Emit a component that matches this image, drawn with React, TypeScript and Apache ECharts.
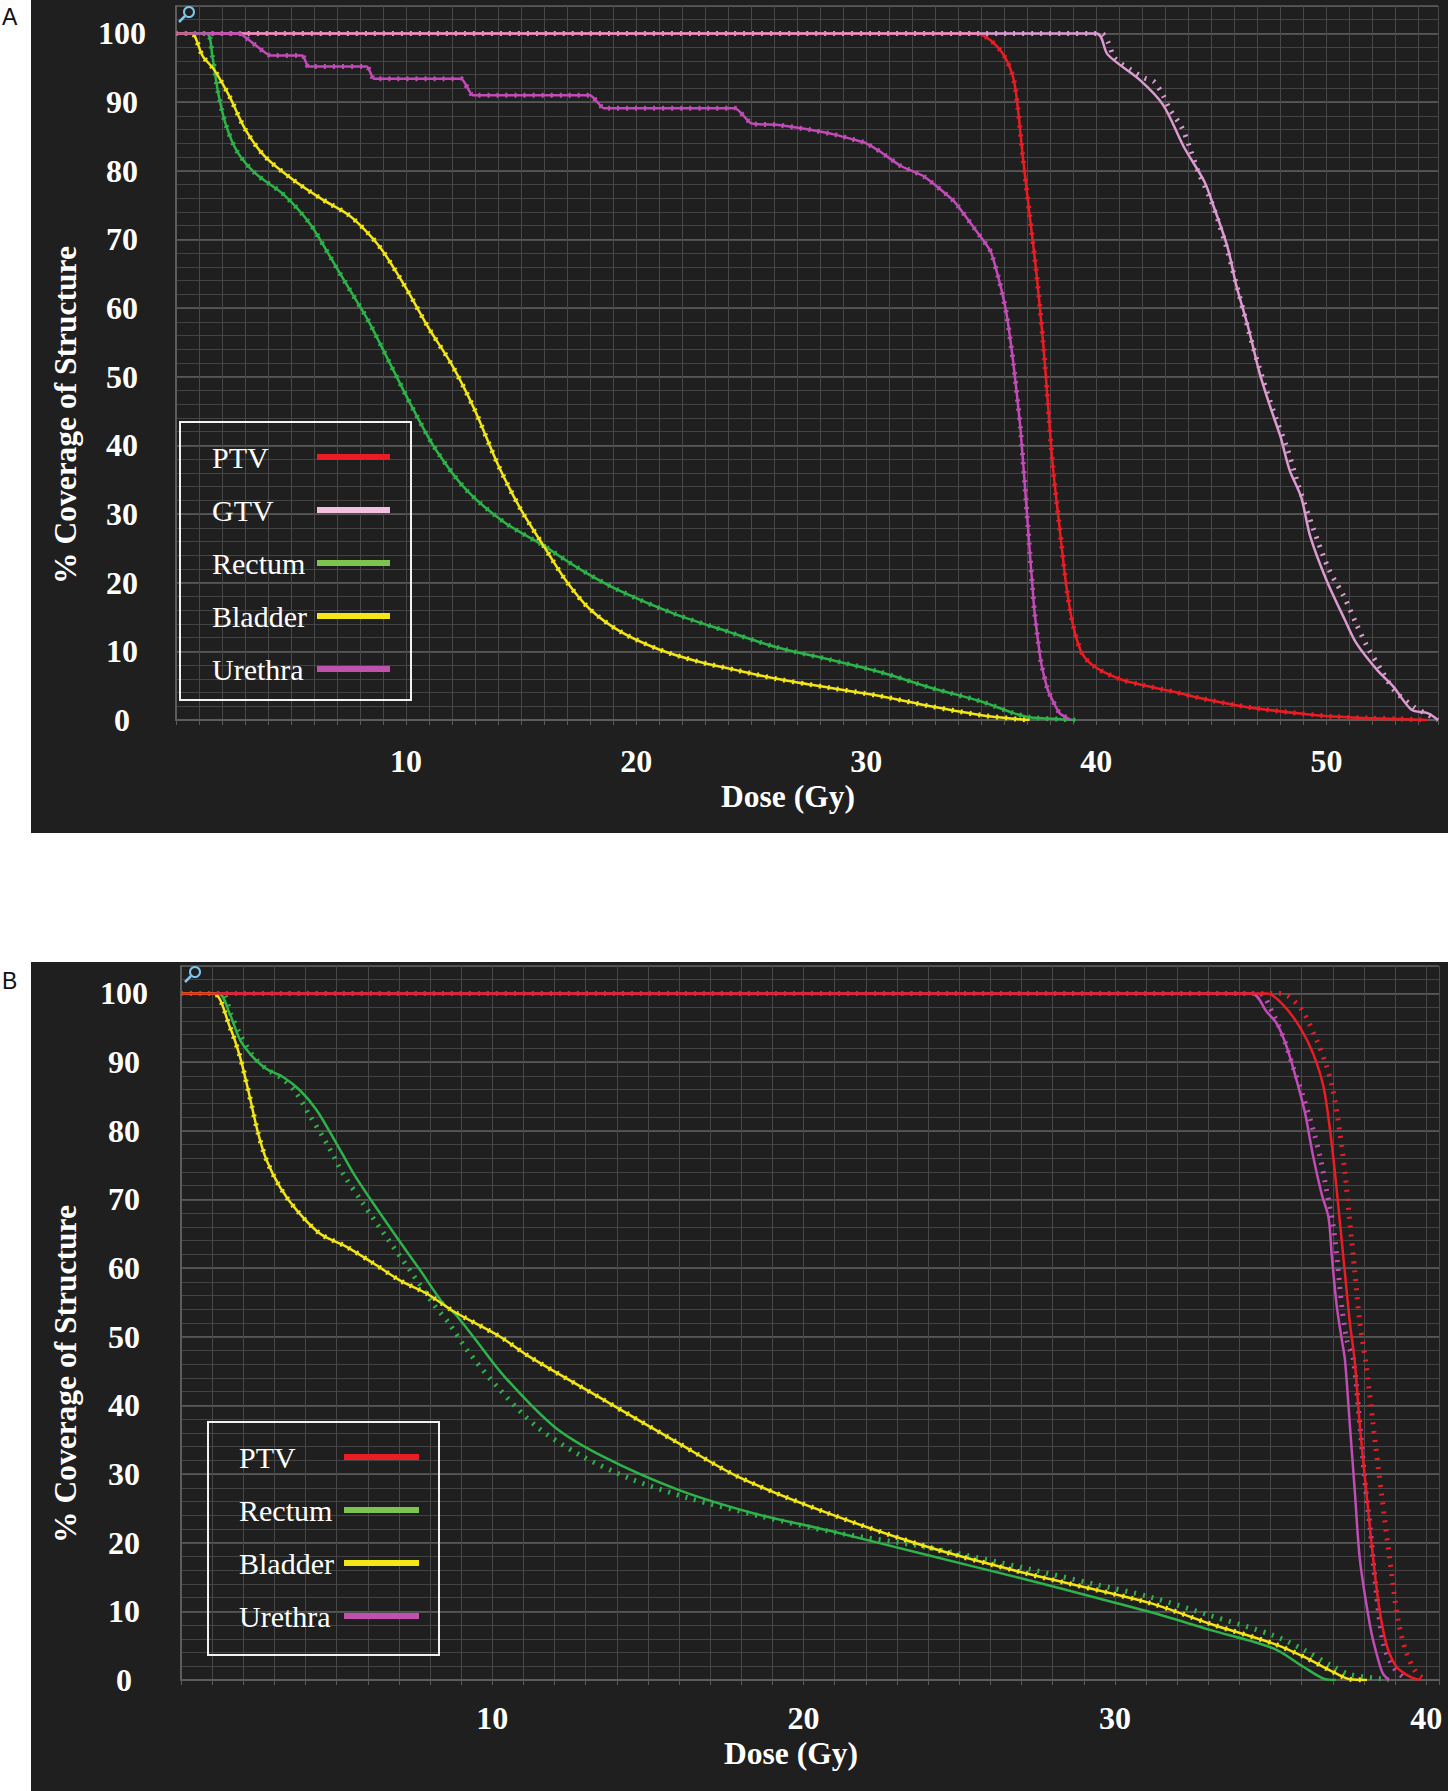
import React, { useEffect, useRef } from "react";
import * as echarts from "echarts";

const SERIF = "'Liberation Serif', 'Times New Roman', Times, serif";
const SANS = "'Liberation Sans', Arial, sans-serif";

// ---------- Panel A : dose (Gy) vs % coverage ----------
const ptvA = [[0,100],[34.8,100],[35.4,99],[36,96.7],[36.4,93.4],[36.6,88.8],[36.8,82.2],[37.1,73.6],[37.4,65],[37.7,54.5],[37.9,45.9],[38.1,37.3],[38.4,28.1],[38.7,19.5],[39,13.6],[39.4,9.6],[40,7.6],[41,6],[42,5.1],[43.5,4],[44.5,3.2],[46,2.2],[47.4,1.5],[49,0.9],[50.3,0.5],[52,0.25],[53.2,0.15],[54.4,0]];
const gtvA = [[0,100],[40,100],[40.5,96.9],[41.9,93.2],[42.9,89.6],[43.8,83.5],[44.7,78.4],[45.1,74.8],[45.7,68.9],[46.1,63.1],[46.6,57.2],[47.1,50.5],[47.6,45.2],[48,41.3],[48.4,36.4],[48.9,32.5],[49.3,26.7],[50,20.4],[50.8,14.6],[51.3,11.2],[52.2,7.3],[52.9,4.9],[53.7,1.5],[54.4,1],[54.85,0]];
const gtvAdot = [[0,100],[40.2,100],[40.5,98.8],[40.8,96.4],[41.5,94.7],[42.1,93.5],[42.5,93],[42.9,91],[43.2,88.9],[43.7,86.4],[44.1,83],[44.4,80.1],[45,75.5],[45.6,69.5],[46.1,63.3],[46.8,54.5],[47.3,49],[47.8,44],[48.3,39.5],[48.8,34],[49.45,27.7],[50.1,22],[50.76,18],[51.3,14],[51.77,10.7],[52.4,7.2],[52.93,4.4],[53.8,1.9],[54.4,0.8],[54.85,0]];
const rectumA = [[0,100],[1.33,100],[1.58,96.7],[1.83,91.4],[2.16,86.8],[2.66,82.8],[3.49,79.5],[4.66,76.6],[5.82,72.3],[6.66,67.7],[7.49,63],[8.32,58.4],[9.32,51.8],[10.32,45.2],[11.31,39.3],[12.65,33.4],[14.31,28.7],[15.97,25.4],[17.64,21.8],[19.3,18.8],[21.63,15.5],[23.96,12.9],[26.1,10.6],[28.4,8.8],[30.6,7],[32.8,4.7],[35,2.7],[36.4,1],[37.1,0.4],[38.5,0.1],[39.1,0]];
const bladderA = [[0,100],[0.67,100],[1.16,96.7],[1.66,94.7],[2.33,90.8],[3,86.1],[3.83,82.2],[5,78.9],[6.32,75.9],[7.49,73.6],[8.32,71],[8.99,68.3],[9.98,63],[10.98,57.1],[11.98,51.8],[12.98,45.2],[13.98,37.3],[14.98,30.7],[15.97,25.4],[16.97,20.2],[17.97,16.2],[19.3,12.9],[20.97,10.3],[22.6,8.6],[24.3,7.3],[26.1,6],[28.4,4.7],[30.6,3.5],[32.8,2],[35,0.7],[36.7,0.1],[37.1,0]];
const urethraA = [[0,100],[2.75,100],[3.3,98.7],[4.1,96.8],[5.5,96.8],[5.75,95.2],[8.3,95.2],[8.6,93.4],[12.4,93.4],[12.9,91],[18,91],[18.6,89.1],[24.3,89.1],[25,86.9],[26.1,86.7],[27.5,86],[28.6,85.3],[29.5,84.5],[30,84],[30.6,82.8],[31.5,80.7],[32.5,79.2],[33.8,75.6],[34.7,71.6],[35.4,68.3],[35.8,63.7],[36.1,59.1],[36.4,51.8],[36.7,42.6],[37,29.4],[37.3,16.2],[37.6,8.3],[37.9,4.3],[38.4,1],[38.9,0]];

// ---------- Panel B ----------
const ptvB = [[0,100],[34.88,100],[35.41,98.3],[35.94,95.1],[36.37,91.2],[36.7,86.4],[36.91,80.1],[37.07,73.8],[37.23,66.5],[37.39,59.2],[37.55,51.9],[37.7,46.6],[37.87,36.9],[38.08,27.2],[38.3,17.5],[38.5,10.2],[38.74,4.9],[39.05,1.9],[39.47,0.5],[39.8,0]];
const ptvBdot = [[0,100],[35.3,100],[35.94,98],[36.47,93.3],[36.79,89.5],[37,86],[37.23,79.6],[37.39,73.8],[37.55,66.5],[37.71,59.2],[37.87,51.9],[38.05,46.6],[38.3,36.9],[38.56,27.2],[38.83,17.5],[39.1,8.6],[39.37,3.9],[39.69,1],[40,0]];
const urethraB = [[0,100],[34.39,100],[34.88,97.3],[35.2,95.6],[35.52,92.2],[35.84,87.3],[36.11,82.5],[36.37,76.2],[36.64,70.8],[36.86,67.4],[36.97,61.6],[37.13,54.3],[37.29,49.5],[37.39,46.6],[37.55,36.9],[37.71,27.2],[37.87,17.5],[38.2,7.8],[38.4,3.9],[38.6,1],[38.8,0]];
const urethraBdot = [[0,100],[34.6,100],[35.1,96.8],[35.41,93.6],[35.73,89.2],[36.06,84.8],[36.37,80.1],[36.59,76.2],[36.8,71.3],[37,66.5],[37.13,61.6],[37.29,54.3],[37.45,49.5],[37.66,46.6],[37.87,37],[38.05,28],[38.2,22],[38.4,12.6],[38.62,5.3],[38.94,1.9],[39.26,0.4],[39.4,0]];
const rectumB = [[0,100],[1.2,100],[1.57,97],[1.9,93.2],[2.32,90.7],[2.75,89],[3.29,87.8],[3.82,85.9],[4.36,83],[5,78.1],[5.54,73.8],[6.18,69.4],[6.93,64.5],[7.68,59.7],[8.43,54.8],[8.79,53.4],[9.39,50],[10.39,44.2],[11.99,36.9],[13.58,32.5],[15.98,27.7],[18.38,24.3],[20.78,21.8],[23.97,18.2],[27.17,14.6],[29.3,12.1],[31.13,9.9],[33.05,7.3],[35.09,4.6],[36.06,1.9],[36.7,0.2],[37.1,0]];
const rectumBdot = [[0,100],[1.3,100],[1.6,97],[1.9,94],[2.3,91],[2.75,89],[3.29,87.5],[3.7,85.5],[4.1,82.5],[4.7,78],[5.2,73.8],[5.85,69.4],[6.6,64.5],[7.35,59.7],[8.1,54.8],[8.6,52],[9.2,48],[10.2,42.5],[11.4,37],[12.8,32.8],[14.5,29.2],[16.3,26.5],[18.5,24],[21,21.5],[24,19.3],[27.2,16.2],[29.3,14],[31.13,12.1],[33.05,9.4],[35.09,6.5],[36.06,4.4],[37,2],[37.55,0.8],[38.5,0.2],[38.8,0]];
const bladderB = [[0,100],[1.04,100],[1.57,95.1],[1.9,90.7],[2.16,85.9],[2.48,79.6],[2.75,75.7],[3.18,71.8],[3.72,68.4],[4.47,65],[5.32,63.1],[6.18,60.7],[7.03,58.2],[7.89,56.3],[8.79,53.6],[10.25,50],[11.19,47.1],[13.58,40.8],[15.98,34.5],[17.9,29.6],[20.78,24.3],[23.97,19.4],[27.17,15.5],[31.13,11.2],[33.05,8.2],[35.09,5.3],[36.06,3.4],[37,1.2],[37.55,0.1],[38.1,0]];

const legendA = ["PTV", "GTV", "Rectum", "Bladder", "Urethra"];
const legendB = ["PTV", "Rectum", "Bladder", "Urethra"];
const yTicks = [0, 10, 20, 30, 40, 50, 60, 70, 80, 90, 100];

const C = {
  PTV: "#ec1c24",
  GTV: "#dc9bd0",
  Rectum: "#2db34a",
  Bladder: "#f2e61a",
  Urethra: "#c14cb6",
};
const LEG: Record<string, string> = {
  PTV: "#ec1c24",
  GTV: "#f4c0e2",
  Rectum: "#7cc44e",
  Bladder: "#f3e816",
  Urethra: "#c052ad",
};

function solid(name: string, data: number[][], color: string, xi: number, yi: number, z = 3, smooth: number | boolean = 0.3) {
  return {
    type: "line", name, data, xAxisIndex: xi, yAxisIndex: yi,
    symbol: "none", smooth, silent: true, z,
    lineStyle: { color, width: 2.5 }, itemStyle: { color },
  };
}
function dotted(name: string, data: number[][], color: string, xi: number, yi: number, smooth: number | boolean = 0.3) {
  return {
    type: "line", name, data, xAxisIndex: xi, yAxisIndex: yi,
    symbol: "none", smooth, silent: true, z: 2,
    lineStyle: { color, width: 5, type: [2, 7], cap: "butt" }, itemStyle: { color },
  };
}

function xAxes(grid: number, max: number, margin: number) {
  return [
    {
      gridIndex: grid, type: "value", position: "bottom", min: 0, max, interval: 1,
      axisLine: { show: false }, axisLabel: { show: false },
      axisTick: { show: true, length: 5, lineStyle: { color: "#5a5a5a", width: 1 } },
      splitLine: { show: true, lineStyle: { color: "#474747", width: 1 } },
    },
    {
      gridIndex: grid, type: "value", position: "bottom", min: 0, max, interval: 10,
      axisLine: { show: true, lineStyle: { color: "#5c5c5c", width: 2 } },
      axisTick: { show: false }, splitLine: { show: false },
      axisLabel: {
        show: true, color: "#ffffff", fontFamily: SERIF, fontWeight: "bold", fontSize: 32,
        margin, showMinLabel: false, showMaxLabel: false,
      },
    },
  ];
}
function yAxes(grid: number, margin: number) {
  return [
    {
      gridIndex: grid, type: "value", position: "left", min: 0, max: 104, interval: 2,
      axisLine: { show: false }, axisLabel: { show: false }, axisTick: { show: false },
      splitLine: { show: true, lineStyle: { color: "#444444", width: 1 } },
    },
    {
      gridIndex: grid, type: "value", position: "left", min: 0, max: 104, interval: 10,
      axisLine: { show: true, lineStyle: { color: "#5c5c5c", width: 2 } },
      axisTick: { show: false },
      splitLine: { show: true, lineStyle: { color: "#5e5e5e", width: 1.5 } },
      axisLabel: {
        show: true, color: "#ffffff", fontFamily: SERIF, fontWeight: "bold", fontSize: 32,
        align: "center", margin, showMaxLabel: false,
        formatter: (v: number) => (yTicks.indexOf(v) >= 0 ? String(v) : ""),
      },
    },
  ];
}

function legend(names: string[], left: number, top: number, padding: number[], itemWidth: number, itemGap: number) {
  return {
    show: true, orient: "vertical", align: "right", left, top, padding, itemWidth, itemHeight: 6, itemGap,
    icon: "rect", borderColor: "#f2f2f2", borderWidth: 2, backgroundColor: "transparent",
    selectedMode: false,
    formatter: (n: string) => `{t|${n}}`,
    textStyle: {
      color: "#ffffff", fontFamily: SERIF, fontSize: 30,
      rich: { t: { width: 100, align: "left", color: "#ffffff", fontFamily: SERIF, fontSize: 30, lineHeight: 30 } },
    },
    data: names.map((n) => ({ name: n, itemStyle: { color: LEG[n], borderWidth: 0 } })),
  };
}

function magnifier(cx: number, cy: number) {
  return [
    { type: "circle", shape: { cx, cy, r: 5 }, style: { fill: "none", stroke: "#7cc8ec", lineWidth: 2 }, z: 50 },
    { type: "line", shape: { x1: cx - 4, y1: cy + 4, x2: cx - 10, y2: cy + 10 }, style: { stroke: "#7cc8ec", lineWidth: 2.5 }, z: 50 },
  ];
}

const titleStyle = { fill: "#ffffff", fontFamily: SERIF, fontWeight: "bold", fontSize: 31.5, align: "center", verticalAlign: "middle" };

export default function App() {
  const ref = useRef<HTMLDivElement>(null);
  useEffect(() => {
    document.body.style.margin = "0";
    const chart = echarts.init(ref.current as HTMLDivElement, null, { renderer: "svg" });
    const option: any = {
      animation: false,
      backgroundColor: "#ffffff",
      grid: [
        { left: 176, top: 6, width: 1262, height: 714, show: true, backgroundColor: "#1f1f1f", borderWidth: 0 },
        { left: 181, top: 966, width: 1258, height: 714, show: true, backgroundColor: "#1f1f1f", borderWidth: 0 },
      ],
      xAxis: [...xAxes(0, 54.85, 25), ...xAxes(1, 40.41, 22)],
      yAxis: [...yAxes(0, 54), ...yAxes(1, 57)],
      legend: [
        legend(legendA, 180, 422, [20, 21, 16, 32], 73, 23),
        legend(legendB, 208, 1422, [20, 20, 24, 31], 75, 23),
      ],
      graphic: [
        { type: "rect", shape: { x: 31, y: 0, width: 1417, height: 833 }, style: { fill: "#1f1f1f" }, z: -10 },
        { type: "rect", shape: { x: 31, y: 962, width: 1417, height: 829 }, style: { fill: "#1f1f1f" }, z: -10 },
        { type: "text", x: 2, y: 17, style: { text: "A", fill: "#111111", fontFamily: SANS, fontSize: 23, verticalAlign: "middle" }, z: 50 },
        { type: "text", x: 2, y: 981, style: { text: "B", fill: "#111111", fontFamily: SANS, fontSize: 23, verticalAlign: "middle" }, z: 50 },
        { type: "text", x: 65, y: 415, rotation: Math.PI / 2, style: { text: "% Coverage of Structure", ...titleStyle }, z: 50 },
        { type: "text", x: 788, y: 796, style: { text: "Dose (Gy)", ...titleStyle }, z: 50 },
        { type: "text", x: 65, y: 1374, rotation: Math.PI / 2, style: { text: "% Coverage of Structure", ...titleStyle }, z: 50 },
        { type: "text", x: 791, y: 1753, style: { text: "Dose (Gy)", ...titleStyle }, z: 50 },
        ...magnifier(189, 12),
        ...magnifier(195, 972),
      ],
      series: [
        // Panel A (axes index 1 = major)
        dotted("PTV A plan 2", ptvA, C.PTV, 1, 1),
        dotted("GTV A plan 2", gtvAdot, C.GTV, 1, 1),
        dotted("Rectum A plan 2", rectumA, C.Rectum, 1, 1),
        dotted("Bladder A plan 2", bladderA, C.Bladder, 1, 1),
        dotted("Urethra A plan 2", urethraA, C.Urethra, 1, 1, 0.15),
        solid("PTV", ptvA, C.PTV, 1, 1),
        solid("GTV", gtvA, C.GTV, 1, 1),
        solid("Rectum", rectumA, C.Rectum, 1, 1),
        solid("Bladder", bladderA, C.Bladder, 1, 1),
        solid("Urethra", urethraA, C.Urethra, 1, 1, 3, 0.15),
        // Panel B (axes index 3 = major)
        dotted("Urethra B plan 2", urethraBdot, C.Urethra, 3, 3),
        dotted("Rectum B plan 2", rectumBdot, C.Rectum, 3, 3),
        dotted("Bladder B plan 2", bladderB, C.Bladder, 3, 3),
        dotted("PTV B plan 2", ptvBdot, C.PTV, 3, 3),
        solid("Urethra", urethraB, C.Urethra, 3, 3),
        solid("Rectum", rectumB, C.Rectum, 3, 3),
        solid("Bladder", bladderB, C.Bladder, 3, 3),
        solid("PTV", ptvB, C.PTV, 3, 3, 4),
      ],
    };
    chart.setOption(option);
    return () => chart.dispose();
  }, []);
  return <div ref={ref} style={{ width: 1448, height: 1791 }} />;
}
